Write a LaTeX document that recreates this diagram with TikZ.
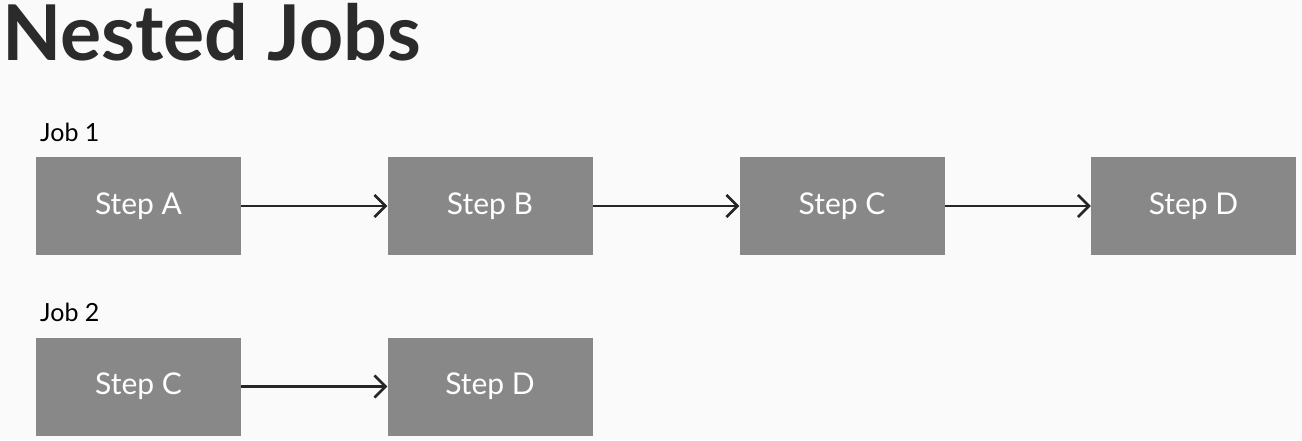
\documentclass[tikz,border=0pt]{standalone}
\usepackage{fontspec}
\setmainfont{Lato}
\usepackage{xcolor}
\usetikzlibrary{arrows.meta}
\definecolor{boxgray}{HTML}{888888}
\definecolor{titlegray}{HTML}{2B2B2B}
\tikzset{
	stepbox/.style={
			fill=boxgray, draw=none, text=white,
			minimum width=205pt, minimum height=98pt,
			font=\fontsize{30}{34}\selectfont
		},
	joblabel/.style={anchor=base west, inner sep=0pt, text=black, font=\fontsize{25}{30}\selectfont},
	flow/.style={-{Straight Barb[length=11pt, width=22pt]}, line width=2.6pt, black!85}
}

\begin{document}
\begin{tikzpicture}[x=1pt, y=-1pt]
			\fill[white!98!black]	(0, 0) rectangle (1302, 440);
			\useasboundingbox		(0, 0) rectangle (1302, 440);

			\node[anchor=base west, inner sep=0pt, text=titlegray, font=\fontsize{77}{82}\selectfont\bfseries] (title) at (2, 60) {Nested Jobs};

			\node[joblabel] (job1) at (40, 141) {Job 1};
			\node[joblabel] (job2) at (40, 321) {Job 2};

			% job 1
			\foreach \s/\x in {A/138.5, B/490, C/842, D/1193.5} {
				\node[stepbox] (one\s) at (\x, 206) {Step \s};
			}
			\draw[flow]	(oneA) to (oneB);
			\draw[flow]	(oneB) to (oneC);
			\draw[flow]	(oneC) to (oneD);

			% job 2
			\node[stepbox] (twoC) at (138.5, 386.5) {Step C};
			\node[stepbox] (twoD) at (490, 386.5) {Step D};
			\draw[flow]	(twoC) to (twoD);
		\end{tikzpicture}
\end{document}
